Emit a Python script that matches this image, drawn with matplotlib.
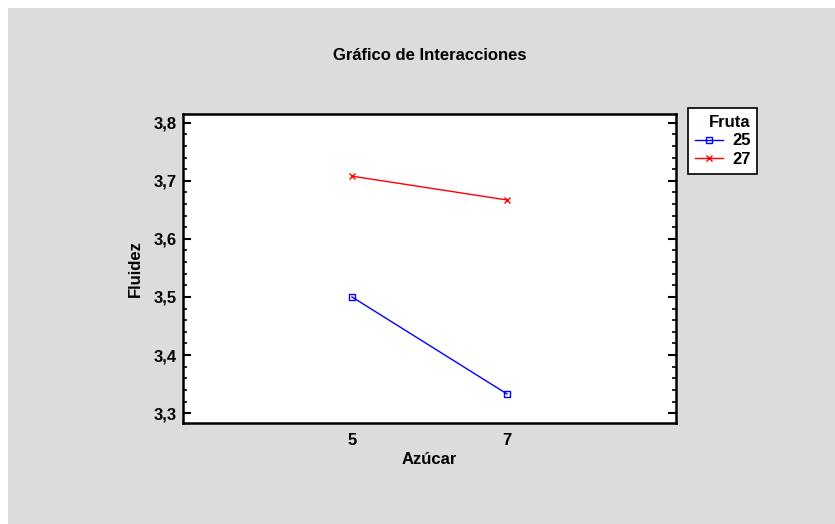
import matplotlib
matplotlib.use("Agg")
import matplotlib.pyplot as plt
from matplotlib.patches import Rectangle
from matplotlib.ticker import MultipleLocator, FuncFormatter

plt.rcParams['font.family'] = ['Liberation Sans', 'DejaVu Sans']
plt.rcParams['font.weight'] = 'bold'

azucar = [5, 7]
fruta_levels = ['25', '27']
fluidez_25 = [3.500, 3.333]
fluidez_27 = [3.708, 3.667]
colors = ['#0000ff', '#ff0000']
markers = ['s', 'x']

W, H = 835, 524
FS = 12
fig = plt.figure(figsize=(W/100, H/100), dpi=100, facecolor='white')
fig.patches.append(Rectangle((8/W, 0), 1 - 8/W, 1 - 8/H, transform=fig.transFigure,
                             facecolor='#dcdcdc', edgecolor='none', zorder=-10))

ax = fig.add_axes([183/W, 1 - 423/H, (676-183)/W, (423-114)/H])
ax.set_facecolor('white')

for vals, lab, c, m in zip([fluidez_25, fluidez_27], fruta_levels, colors, markers):
    ax.plot(azucar, vals, color=c, lw=1, marker=m, markersize=5,
            markerfacecolor='none', markeredgecolor=c, markeredgewidth=1, label=lab)

ax.set_xlim(2.82, 9.18)
ax.set_ylim(3.283, 3.815)
ax.set_xticks(azucar)
ax.set_xticklabels([str(v) for v in azucar])
ax.yaxis.set_major_locator(MultipleLocator(0.1))
ax.yaxis.set_minor_locator(MultipleLocator(0.02))
ax.yaxis.set_major_formatter(FuncFormatter(lambda v, p: f"{v:.1f}".replace('.', ',')))
ax.tick_params(axis='y', which='major', direction='in', length=6, width=1.5,
               left=True, right=True, labelsize=FS, pad=4.5)
ax.tick_params(axis='y', which='minor', direction='in', length=3, width=1.2,
               left=True, right=True)
ax.tick_params(axis='x', which='both', length=0, labelsize=FS, pad=7)
for s in ax.spines.values():
    s.set_linewidth(1.8)
    s.set_color('black')

ax.set_xlabel('Azúcar', fontsize=FS, fontweight='bold', labelpad=3)
ax.set_ylabel('Fluidez', fontsize=FS, fontweight='bold', labelpad=8)
fig.text(430/W, 1 - 56/H, 'Gráfico de Interacciones', ha='center', va='center',
         fontsize=FS, fontweight='bold')

leg = ax.legend(title='Fruta', loc='upper left', bbox_to_anchor=(688/W, 1 - 108/H),
                bbox_transform=fig.transFigure, frameon=True, fancybox=False,
                fontsize=FS, title_fontproperties={'weight': 'bold', 'size': FS},
                handlelength=1.7, handletextpad=0.55, borderpad=0.4, labelspacing=0.22,
                borderaxespad=0, markerfirst=True, framealpha=1)
leg._legend_box.align = 'right'
leg.get_frame().set_edgecolor('black')
leg.get_frame().set_linewidth(1.2)
leg.get_frame().set_facecolor('white')
for t in leg.get_texts():
    t.set_fontweight('bold')

fig.savefig('out.png', dpi=100, facecolor=fig.get_facecolor())
